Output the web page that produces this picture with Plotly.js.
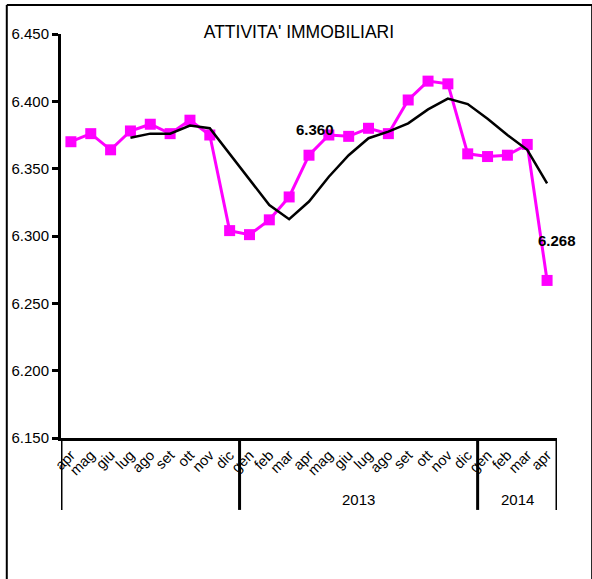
<!DOCTYPE html>
<html>
<head>
<meta charset="utf-8">
<script src="https://cdn.plot.ly/plotly-3.0.1.min.js"></script>
<style>
html,body{margin:0;padding:0;background:#fff;}
#chart{width:592px;height:579px;}
</style>
</head>
<body>
<div id="chart"></div>
<script>
var months = ['apr','mag','giu','lug','ago','set','ott','nov','dic','gen','feb','mar','apr','mag','giu','lug','ago','set','ott','nov','dic','gen','feb','mar','apr'];
var values = [6.370, 6.376, 6.364, 6.378, 6.383, 6.376, 6.386, 6.375, 6.304, 6.301, 6.312, 6.329, 6.360, 6.375, 6.374, 6.380, 6.376, 6.401, 6.415, 6.413, 6.361, 6.359, 6.360, 6.368, 6.267];
var trend = [null, null, null, 6.373, 6.376, 6.376, 6.382, 6.380, 6.361, 6.342, 6.323, 6.3125, 6.3256, 6.344, 6.360, 6.3726, 6.3775, 6.3837, 6.394, 6.402, 6.398, 6.387, 6.375, 6.364, 6.339];
var yearLabels = ['2013', '2014'];
var yearCenters = [14.5, 22.5];
var separators = [-0.5, 8.5, 20.5, 24.5];
var labelled = [{i: 12, text: '6.360'}, {i: 24, text: '6.268'}];
var yTicks = [6.150, 6.200, 6.250, 6.300, 6.350, 6.400, 6.450];

var idx = months.map(function(_, i){ return i; });
var FONT = 'Liberation Sans, Arial, sans-serif';

var traces = [
  {x: idx, y: values, type: 'scatter', mode: 'lines+markers',
   line: {color: '#FF00FF', width: 3},
   marker: {symbol: 'square', size: 11, color: '#FF00FF'},
   hoverinfo: 'skip', showlegend: false},
  {x: idx, y: trend, type: 'scatter', mode: 'lines',
   line: {color: '#000000', width: 2.5},
   hoverinfo: 'skip', showlegend: false}
];

var shapes = separators.map(function(s){
  return {type: 'line', xref: 'x', yref: 'paper', x0: s, x1: s, y0: 0, y1: -0.178,
          line: {color: '#000', width: 3}};
});
// outer frame
shapes.push({type:'line', xref:'paper', yref:'paper', x0:-0.1093, x1:-0.1093, y0:1.0718, y1:-0.42, line:{color:'#000', width:2}});
shapes.push({type:'line', xref:'paper', yref:'paper', x0:-0.1093, x1:1.0709, y0:1.0718, y1:1.0718, line:{color:'#000', width:2}});
shapes.push({type:'line', xref:'paper', yref:'paper', x0:1.0709, x1:1.0709, y0:1.0718, y1:-0.42, line:{color:'#000', width:2}});

var annotations = yearLabels.map(function(t, k){
  return {text: t, xref: 'x', yref: 'paper', x: yearCenters[k], y: -0.153,
          showarrow: false, xanchor: 'center', yanchor: 'middle',
          font: {family: FONT, size: 15, color: '#000'}};
});
annotations.push({text: '<b>' + labelled[0].text + '</b>', xref: 'x', yref: 'y', x: labelled[0].i, y: values[labelled[0].i],
  showarrow: false, xanchor: 'center', yanchor: 'middle', xshift: 6, yshift: 26,
  font: {family: FONT, size: 15, color: '#000'}});
annotations.push({text: '<b>' + labelled[1].text + '</b>', xref: 'x', yref: 'y', x: labelled[1].i, y: values[labelled[1].i],
  showarrow: false, xanchor: 'center', yanchor: 'middle', xshift: 10, yshift: 40,
  font: {family: FONT, size: 15, color: '#000'}});

var layout = {
  width: 592, height: 579,
  margin: {l: 61, r: 35, t: 34, b: 141, pad: 0},
  paper_bgcolor: '#fff', plot_bgcolor: '#fff',
  title: {text: "ATTIVITA' IMMOBILIARI", x: 0.505, xref: 'container', xanchor: 'center',
          y: 0.945, yref: 'container', yanchor: 'middle',
          font: {family: FONT, size: 17.5, color: '#000'}},
  xaxis: {range: [-0.5, 24.5], tickmode: 'array', tickvals: idx, ticktext: months,
          tickangle: -45, ticks: '', showgrid: false, zeroline: false,
          showline: true, linecolor: '#000', linewidth: 3, fixedrange: true,
          tickfont: {family: FONT, size: 14.5, color: '#000'}},
  yaxis: {range: [6.150, 6.450], tickmode: 'array', tickvals: yTicks,
          tickformat: '.3f', ticks: 'outside', ticklen: 6, tickwidth: 3, tickcolor: '#000',
          showgrid: false, zeroline: false, showline: true, linecolor: '#000', linewidth: 3,
          fixedrange: true, tickfont: {family: FONT, size: 15, color: '#000'}},
  shapes: shapes,
  annotations: annotations,
  showlegend: false
};

Plotly.newPlot('chart', traces, layout, {staticPlot: true, displayModeBar: false});
</script>
</body>
</html>
